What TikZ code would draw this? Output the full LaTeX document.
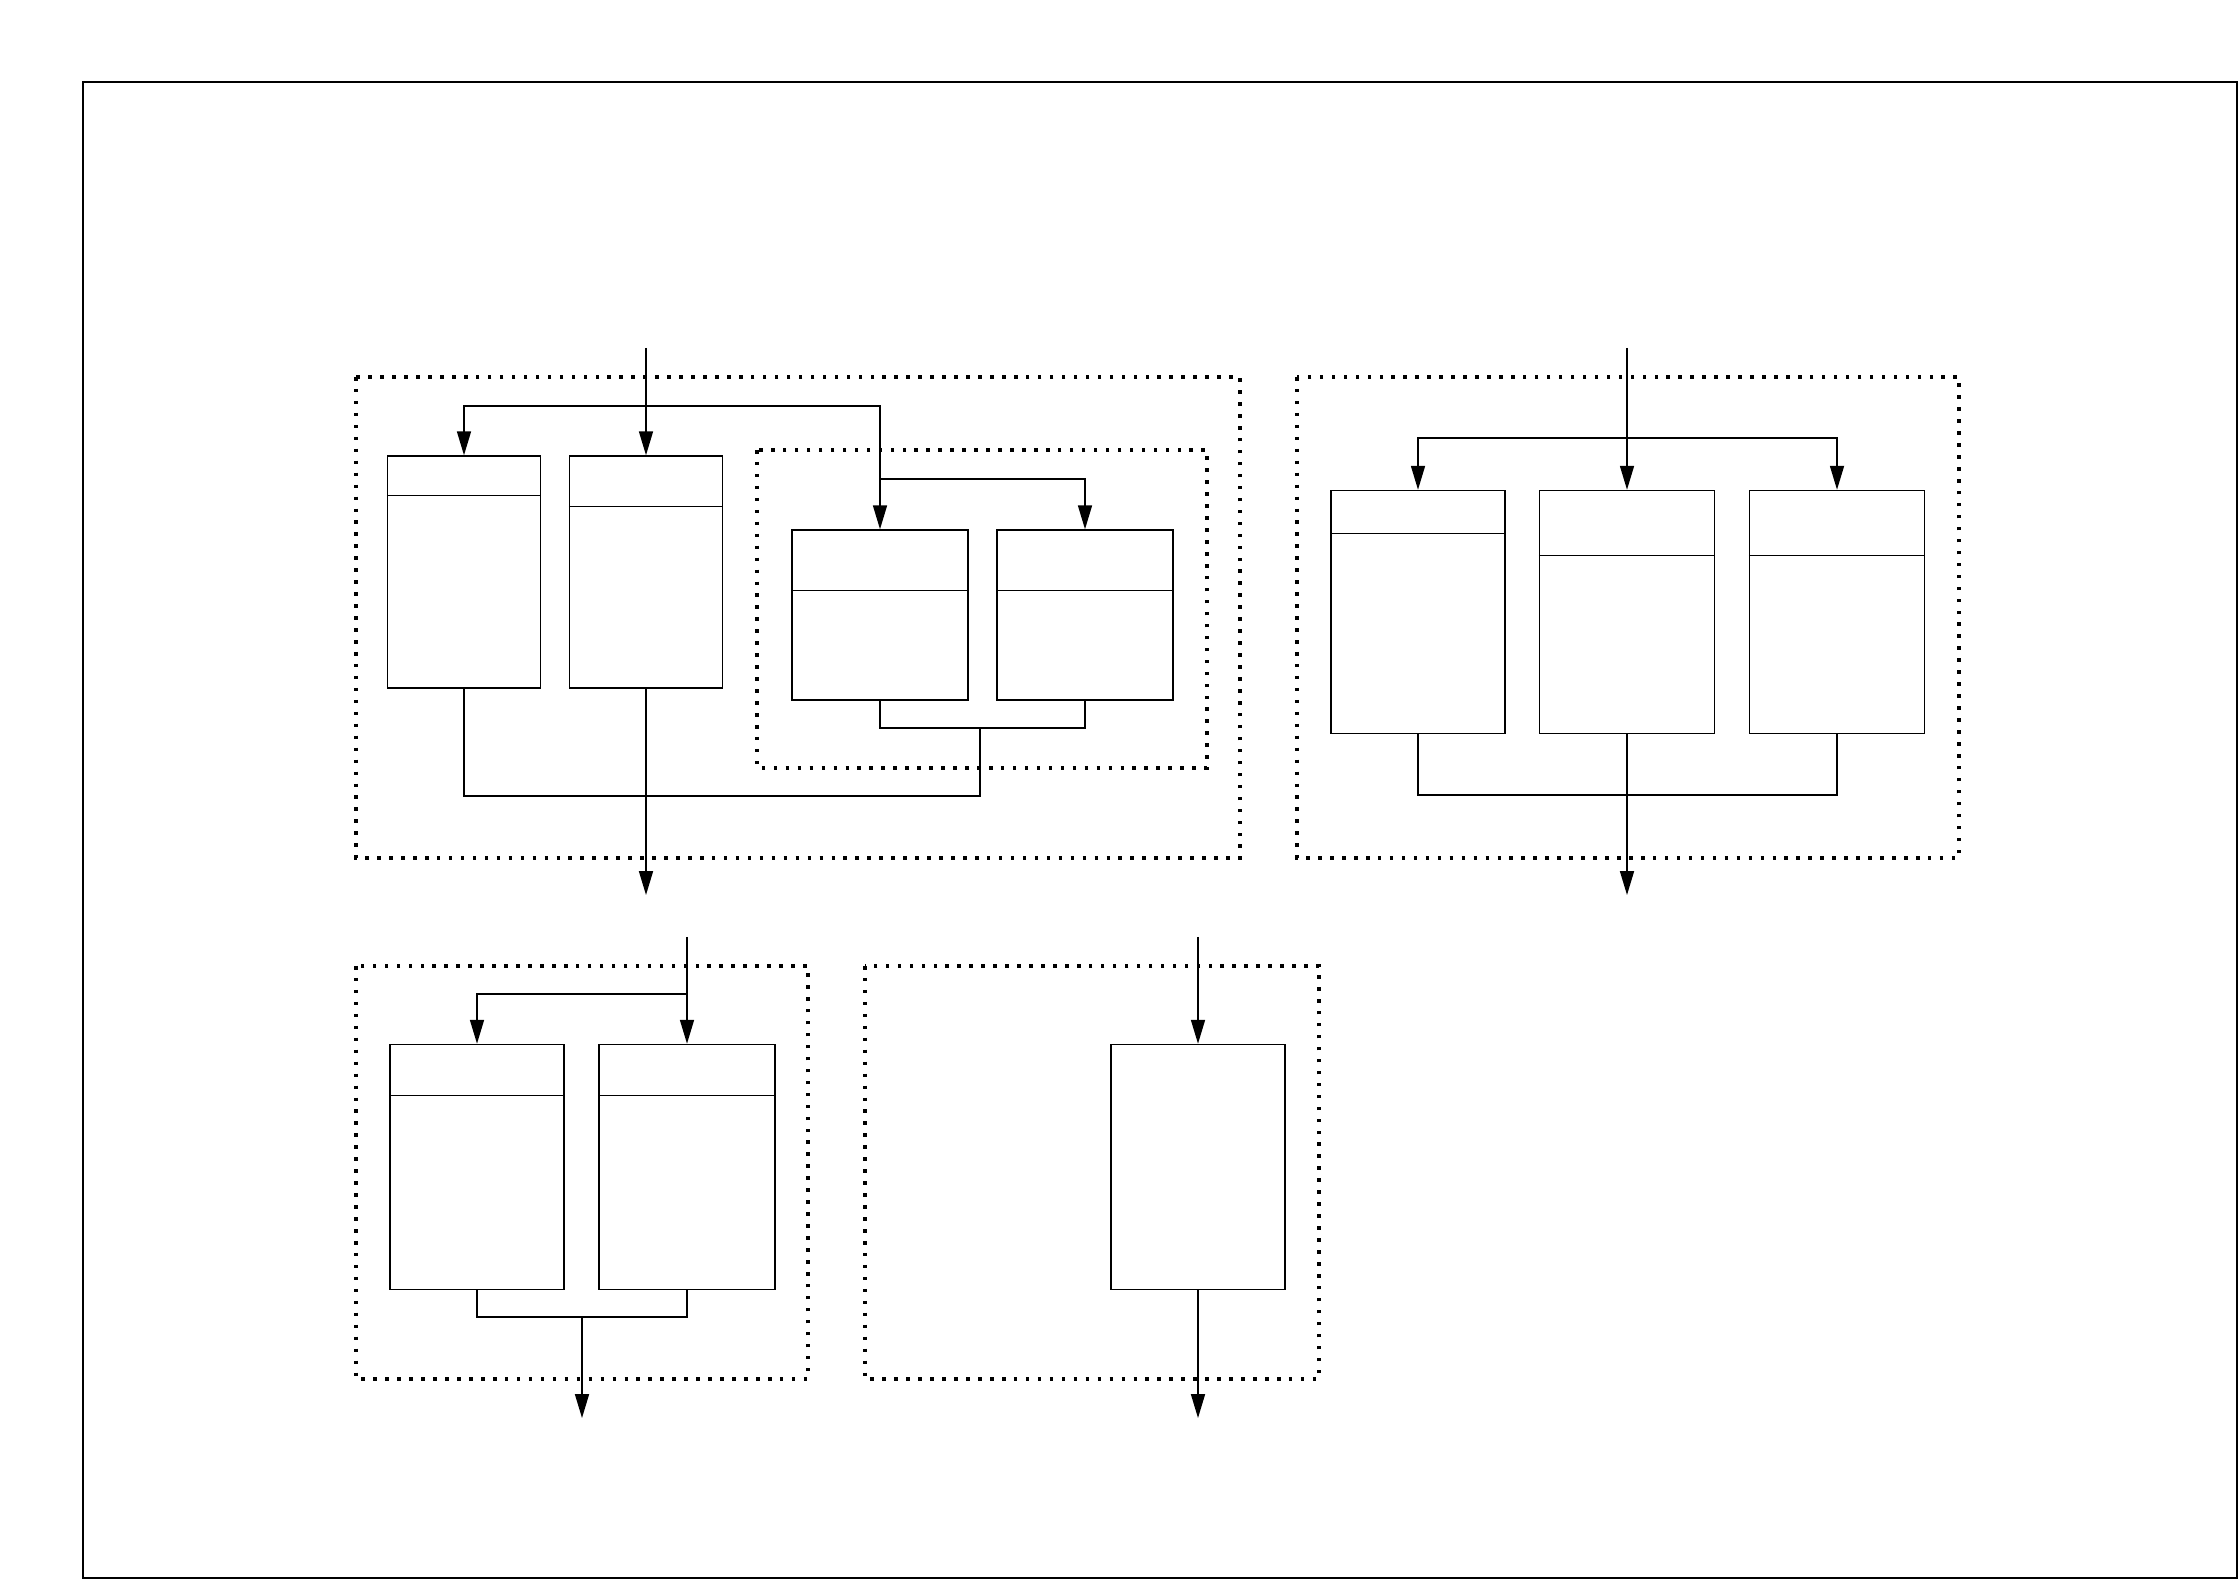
\documentclass[tikz,border=0pt]{standalone}
\usepackage{tikz}
\usetikzlibrary{arrows.meta,calc}
\tikzset{
  cell/.style 2 args={draw, rectangle, inner sep=0pt, line width=0.4pt,
                      minimum width=#1, minimum height=#2},
  grp/.style={line width=1.1pt, dash pattern=on 1.0pt off 2.4pt},
  link/.style={line width=0.4pt},
  arr/.style={link, -{Triangle[length=6.8pt,width=4pt]}},
}
\begin{document}
\begin{tikzpicture}[x=0.01cm, y=-0.01cm]
  \useasboundingbox (0,0) rectangle (2239,1580);
  \draw[link] (83,82) rectangle (2237,1578);
  % dotted groups
  \draw[grp] (356,377) rectangle (1240,858);
  \draw[grp] (757,450) rectangle (1207,768);
  \draw[grp] (1297,377) rectangle (1959,858);
  \draw[grp] (356,966) rectangle (808,1379);
  \draw[grp] (865,966) rectangle (1319,1379);
  % boxes, top left
  \node[cell={1.53cm}{2.32cm}] (A) at (464,572) {};
  \node[cell={1.53cm}{2.32cm}] (B) at (646,572) {};
  \node[cell={1.76cm}{1.70cm}] (C) at (880,615) {};
  \node[cell={1.76cm}{1.70cm}] (D) at (1085,615) {};
  % boxes, top right
  \node[cell={1.74cm}{2.43cm}] (E) at (1418,612) {};
  \node[cell={1.75cm}{2.43cm}] (F) at (1627,612) {};
  \node[cell={1.75cm}{2.43cm}] (G) at (1837,612) {};
  % boxes, bottom
  \node[cell={1.74cm}{2.45cm}] (H) at (477,1167) {};
  \node[cell={1.76cm}{2.45cm}] (I) at (687,1167) {};
  \node[cell={1.74cm}{2.45cm}] (J) at (1198,1167) {};
  % header lines
  \foreach \n/\h in {A/40,B/51,C/61,D/61,E/44,F/66,G/66,H/52,I/52}
    \draw[link] ($(\n.north west)+(0,\h)$) -- ($(\n.north east)+(0,\h)$);
  % top left connectors
  \coordinate (in1) at (646,348);
  \coordinate (s1) at (646,406);
  \coordinate (s2) at (880,479);
  \coordinate (j1) at (980,728);
  \coordinate (j2) at (980,796);
  \coordinate (out1) at (646,895);
  \draw[arr] (in1) -- (B.north);
  \draw[arr] (s1) -| (A.north);
  \draw[arr] (s1) -| (C.north);
  \draw[arr] (s2) -| (D.north);
  \draw[link] (C.south) |- (j1) -| (D.south);
  \draw[link] (j1) -- (j2) -| (A.south);
  \draw[arr] (B.south) -- (out1);
  % top right connectors
  \coordinate (in2) at (1627,348);
  \coordinate (s3) at (1627,438);
  \coordinate (j3) at (1627,795);
  \coordinate (out2) at (1627,895);
  \draw[arr] (in2) -- (F.north);
  \draw[arr] (s3) -| (E.north);
  \draw[arr] (s3) -| (G.north);
  \draw[link] (E.south) |- (j3) -| (G.south);
  \draw[arr] (F.south) -- (out2);
  % bottom left connectors
  \coordinate (in3) at (687,937);
  \coordinate (s4) at (687,994);
  \coordinate (j4) at (582,1317);
  \coordinate (out3) at (582,1418);
  \draw[arr] (in3) -- (I.north);
  \draw[arr] (s4) -| (H.north);
  \draw[link] (H.south) |- (j4) -| (I.south);
  \draw[arr] (j4) -- (out3);
  % bottom middle connectors
  \coordinate (in4) at (1198,937);
  \coordinate (out4) at (1198,1418);
  \draw[arr] (in4) -- (J.north);
  \draw[arr] (J.south) -- (out4);
\end{tikzpicture}
\end{document}
